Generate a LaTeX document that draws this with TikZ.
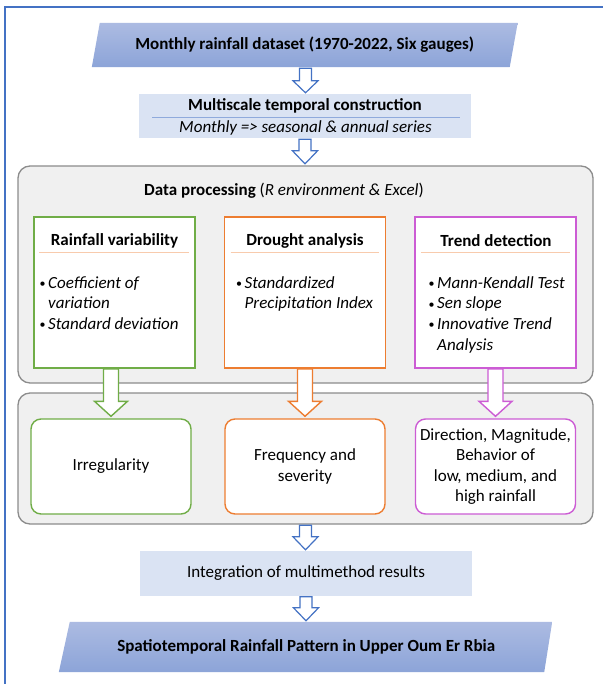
\documentclass[tikz,border=0pt]{standalone}
\usepackage{fontspec}
\setmainfont{Carlito}
\usetikzlibrary{calc,backgrounds}
\definecolor{frameblue}{HTML}{4472C4}
\definecolor{paraTop}{RGB}{172,187,226}
\definecolor{paraBot}{RGB}{140,164,216}
\definecolor{lightblue}{HTML}{DAE3F3}
\definecolor{sepblue}{HTML}{8FAADC}
\definecolor{grayfill}{HTML}{F0F0F0}
\definecolor{grayline}{HTML}{8C8C8C}
\definecolor{cgreen}{HTML}{70AD47}
\definecolor{corange}{HTML}{ED7D31}
\definecolor{cmagenta}{RGB}{204,92,212}
\definecolor{peach}{HTML}{F8CBAD}
\newcommand{\bitem}[1]{\makebox[8.5pt][l]{\fontsize{12}{12}\selectfont\raisebox{0.5pt}{•}}\textit{#1}}
\newcommand{\bcont}[1]{\hspace*{8.5pt}\textit{#1}}
\newcommand{\blockarrow}[6]{%
  \draw[#1] let \p1=(#2), \p2=(#3) in
    (\x1-#4,\y1) -- (\x1-#4,\y2+#6) -- (\x1-#5,\y2+#6) -- (\x1,\y2)
    -- (\x1+#5,\y2+#6) -- (\x1+#4,\y2+#6) -- (\x1+#4,\y1) -- cycle;}
\begin{document}
\begin{tikzpicture}[x=1pt,y=-1pt,
  every node/.style={font=\fontsize{17}{20.7}\selectfont, inner sep=0pt},
  parabox/.style={minimum height=#1, font=\fontsize{17}{20.7}\selectfont\bfseries},
  bluebox/.style={fill=lightblue, minimum width=332pt},
  graybox/.style={draw=grayline, line width=1.3pt, fill=grayfill, rounded corners=12pt,
    minimum width=575pt},
  methodbox/.style={draw=#1, line width=1.6pt, fill=white, minimum width=161pt, minimum height=151pt},
  resultbox/.style={draw=#1, line width=1.4pt, fill=white, rounded corners=10pt,
    minimum width=160pt, minimum height=95pt, align=center,
    font=\fontsize{17}{20.3}\selectfont},
  boxtitle/.style={font=\fontsize{17}{20.7}\selectfont\bfseries},
  underline/.style={draw=peach, line width=0.8pt},
  bluearrow/.style={draw=frameblue, fill=white, line width=1.2pt, line join=miter},
  colarrow/.style={draw=#1, fill=white, line width=1.4pt, line join=miter},
  listnode/.style={anchor=base west}
]
\useasboundingbox (0,0) rectangle (603,684);
\draw[frameblue, line width=1.8pt] (5,684) -- (5,7) -- (603,7);

% source parallelogram
\node[parabox=44pt, minimum width=417.5pt] (src) at (304.75,45)
  {Monthly rainfall dataset (1970-2022, Six gauges)};
% multiscale box
\node[bluebox, minimum height=44pt] (ms) at (305,116) {};
\node[boxtitle] (mstitle) at (305,106) {Multiscale temporal construction};
\draw[sepblue, line width=0.6pt] (152,117) -- (460,117);
\node[font=\fontsize{17}{20.7}\selectfont\itshape] (mssub) at (305.5,128)
  {Monthly => seasonal \& annual series};

% processing group
\node[graybox, minimum height=217pt] (proc) at (305.5,274.5) {};
\node (proctitle) at (284,191) {\textbf{Data processing} (\textit{R environment \& Excel})};

\node[methodbox=cgreen] (vg) at (114.5,292.5) {};
\node[methodbox=corange] (vo) at (305,292.5) {};
\node[methodbox=cmagenta] (vm) at (495.5,292.5) {};

\node[boxtitle] (tg) at (114.5,241) {Rainfall variability};
\node[boxtitle] (to) at (305,241) {Drought analysis};
\node[boxtitle] (tm) at (496,241) {Trend detection};
\draw[underline] ([xshift=6pt]vg.west |- 0,252) -- ([xshift=-7pt]vg.east |- 0,252);
\draw[underline] ([xshift=7pt]vo.west |- 0,252) -- ([xshift=-7pt]vo.east |- 0,252);
\draw[underline] ([xshift=7pt]vm.west |- 0,252) -- ([xshift=-7pt]vm.east |- 0,252);

\node[listnode] (lg) at (39.5,288) {\parbox[t]{150pt}{\bitem{Coefficient of}\\\bcont{variation}\\\bitem{Standard deviation}}};
\node[listnode] (lo) at (236,288) {\parbox[t]{150pt}{\bitem{Standardized}\\\bcont{Precipitation Index}}};
\node[listnode] (lm) at (428.5,288) {\parbox[t]{150pt}{\bitem{Mann-Kendall Test}\\\bitem{Sen slope}\\\bitem{Innovative Trend}\\\bcont{Analysis}}};

% results group
\node[graybox, minimum height=131pt] (res) at (305.5,458.5) {};
\node[resultbox=cgreen] (rg) at (111,466.5) {Irregularity};
\node[resultbox=corange] (ro) at (305,466.5) {Frequency and\\severity};
\node[resultbox=cmagenta] (rm) at (495.5,466.5) {Direction, Magnitude,\\Behavior of\\low, medium, and\\high rainfall};

% integration
\node[bluebox, minimum height=45pt] (integ) at (306,573.5) {Integration of multimethod results};

% output parallelogram
\node[parabox=50pt, minimum width=483.5pt] (out) at (306.25,647)
  {Spatiotemporal Rainfall Pattern in Upper Oum Er Rbia};

\begin{scope}[on background layer]
\fill[white] (0,0) rectangle (603,684);
\shade[top color=paraTop, bottom color=paraBot]
  ([xshift=-4pt]src.south west) -- ([xshift=4pt]src.north west)
  -- ([xshift=4pt]src.north east) -- ([xshift=-4pt]src.south east) -- cycle;
\shade[top color=paraTop, bottom color=paraBot]
  ([xshift=-5.5pt]out.south west) -- ([xshift=5.5pt]out.north west)
  -- ([xshift=4pt]out.north east) -- ([xshift=-4pt]out.south east) -- cycle;
\end{scope}

% blue arrows
\blockarrow{bluearrow}{[xshift=0.75pt,yshift=-1pt]src.south}{[yshift=1pt]ms.north}{6pt}{12.5pt}{12pt}
\blockarrow{bluearrow}{[yshift=-1pt]ms.south}{[yshift=1.5pt]proc.north}{6pt}{12.5pt}{13pt}
\blockarrow{bluearrow}{[yshift=-0.5pt]res.south}{[yshift=1pt]integ.north}{6pt}{12.5pt}{13pt}
\blockarrow{bluearrow}{[yshift=-0.5pt]integ.south}{[yshift=1pt]out.north}{6pt}{12.5pt}{13pt}

% coloured arrows
\blockarrow{colarrow=cgreen}{rg.north |- vg.south}{[yshift=2pt]rg.north}{7.5pt}{16.5pt}{15pt}
\blockarrow{colarrow=corange}{ro.north |- vo.south}{[yshift=2pt]ro.north}{7.5pt}{16.5pt}{15pt}
\blockarrow{colarrow=cmagenta}{rm.north |- vm.south}{[yshift=2pt]rm.north}{7.5pt}{16.5pt}{15pt}
\end{tikzpicture}
\end{document}
